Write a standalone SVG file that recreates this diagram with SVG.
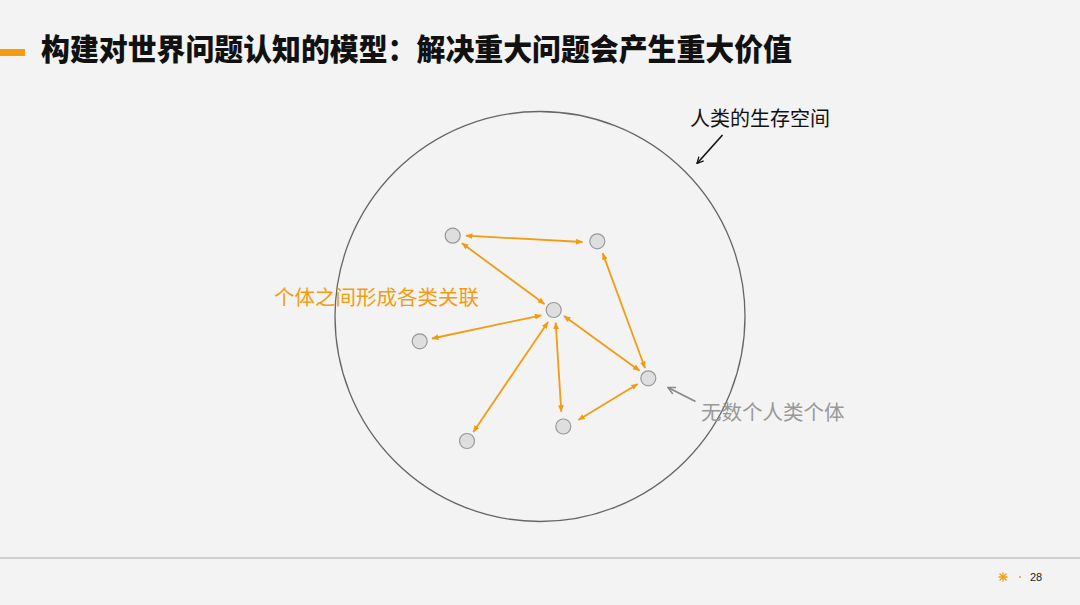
<svg xmlns="http://www.w3.org/2000/svg" width="1080" height="605" viewBox="0 0 1080 605">
<defs>
<style>
.node{fill:#dedede;stroke:#999;stroke-width:1.2}
.link{stroke:#f39c12;stroke-width:1.8;fill:none;marker-start:url(#oa);marker-end:url(#oa)}
.cjk{font-family:"Noto Sans CJK SC","Noto Sans",sans-serif}
</style>
<marker id="oa" viewBox="0 0 10 10" refX="9" refY="5" markerWidth="4" markerHeight="4" orient="auto-start-reverse" markerUnits="strokeWidth">
<path d="M0,1 L10,5 L0,9 z" fill="#f39c12"/>
</marker>
<marker id="ka" viewBox="0 0 10 10" refX="9" refY="5" markerWidth="5" markerHeight="5" orient="auto" markerUnits="strokeWidth">
<path d="M1,1 L9,5 L1,9" fill="none" stroke="#111" stroke-width="1.6"/>
</marker>
<marker id="ga" viewBox="0 0 10 10" refX="9" refY="5" markerWidth="5" markerHeight="5" orient="auto" markerUnits="strokeWidth">
<path d="M1,1 L9,5 L1,9" fill="none" stroke="#888" stroke-width="1.6"/>
</marker>
</defs>
<rect width="1080" height="605" fill="#f3f3f3"/>
<g id="title">
<rect x="0" y="49" width="25" height="7" fill="#f39c12"/>
<text x="41" y="60" class="cjk" font-size="30" font-weight="900" fill="#111" textLength="751" lengthAdjust="spacingAndGlyphs">构建对世界问题认知的模型：解决重大问题会产生重大价值</text>
</g>
<g id="space">
<circle cx="540" cy="316.5" r="205" fill="none" stroke="#666" stroke-width="1.3"/>
</g>
<g id="connectors">
<line class="link" x1="466" y1="235.7" x2="582.5" y2="242"/>
<line class="link" x1="462" y1="243.3" x2="544.5" y2="304"/>
<line class="link" x1="602.7" y1="253.3" x2="645" y2="368"/>
<line class="link" x1="432" y1="338.5" x2="541.3" y2="315.3"/>
<line class="link" x1="564" y1="316" x2="639.5" y2="370.7"/>
<line class="link" x1="548" y1="322" x2="473.3" y2="432"/>
<line class="link" x1="555.7" y1="322.7" x2="561.3" y2="411.7"/>
<line class="link" x1="637.7" y1="384" x2="578.3" y2="420"/>
<line x1="722.5" y1="135" x2="697" y2="163.5" stroke="#111" stroke-width="1.6" marker-end="url(#ka)"/>
<line x1="695.5" y1="401.5" x2="668" y2="387.5" stroke="#888" stroke-width="1.8" marker-end="url(#ga)"/>
</g>
<g id="nodeA"><circle class="node" cx="452.7" cy="235.7" r="7.5"/></g>
<g id="nodeB"><circle class="node" cx="597.3" cy="241.3" r="7.5"/></g>
<g id="nodeC"><circle class="node" cx="553.7" cy="310" r="7.5"/></g>
<g id="nodeD"><circle class="node" cx="419.7" cy="341.3" r="7.5"/></g>
<g id="nodeE"><circle class="node" cx="648.3" cy="378.3" r="7.5"/></g>
<g id="nodeF"><circle class="node" cx="563.3" cy="426.5" r="7.5"/></g>
<g id="nodeG"><circle class="node" cx="467" cy="441" r="7.5"/></g>
<g id="labels">
<text x="690" y="126" class="cjk" font-size="20" fill="#111">人类的生存空间</text>
<text x="274" y="305" class="cjk" font-size="20.5" fill="#f39c12">个体之间形成各类关联</text>
<text x="701" y="420" class="cjk" font-size="20.5" fill="#999">无数个人类个体</text>
</g>
<g id="footer">
<line x1="0" y1="558" x2="1080" y2="558" stroke="#aaa" stroke-width="1"/>
<g stroke="#f39c12" stroke-width="1.3" stroke-linecap="round">
<line x1="999" y1="577" x2="1007" y2="577"/>
<line x1="1003" y1="573" x2="1003" y2="581"/>
<line x1="1000" y1="574" x2="1006" y2="580"/>
<line x1="1006" y1="574" x2="1000" y2="580"/>
</g>
<circle cx="1020" cy="577" r="1" fill="#f39c12"/>
<text x="1030" y="581" font-family="Liberation Sans,Arial,sans-serif" font-size="11" fill="#222">28</text>
</g>
</svg>
